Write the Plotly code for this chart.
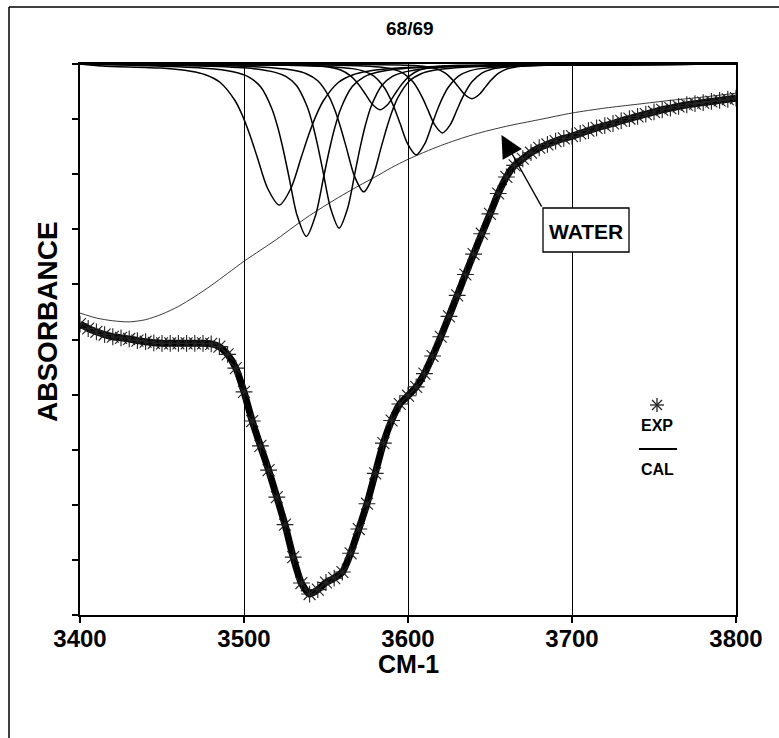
import plotly.graph_objects as go

# ---------------- data ----------------
# experimental spectrum (absorbance axis increases downward)
exp_wavenumber = list(range(3400, 3801, 5))
exp_absorbance = [
    4.72, 4.80, 4.86, 4.91, 4.95, 4.97, 4.99, 5.02, 5.04, 5.06,
    5.07, 5.07, 5.07, 5.07, 5.07, 5.07, 5.08, 5.13, 5.27, 5.52,
    5.95, 6.48, 6.93, 7.37, 7.86, 8.36, 8.95, 9.42, 9.62, 9.54,
    9.41, 9.33, 9.22, 8.88, 8.44, 7.98, 7.43, 6.88, 6.47, 6.17,
    6.02, 5.86, 5.62, 5.30, 4.95, 4.58, 4.20, 3.82, 3.45, 3.08,
    2.72, 2.35, 2.05, 1.84, 1.72, 1.61, 1.52, 1.46, 1.40, 1.35,
    1.31, 1.26, 1.21, 1.16, 1.12, 1.08, 1.03, 0.99, 0.95, 0.91,
    0.87, 0.83, 0.80, 0.77, 0.74, 0.72, 0.70, 0.68, 0.66, 0.64,
    0.62,
]

# broad background (water) curve
base_wavenumber = [3400, 3410, 3420, 3430, 3440, 3450, 3460, 3470, 3480, 3490,
                   3500, 3510, 3520, 3530, 3540, 3550, 3560, 3570, 3580, 3590,
                   3600, 3620, 3640, 3660, 3680, 3700, 3720, 3740, 3760, 3780, 3800]
base_absorbance = [4.52, 4.61, 4.66, 4.68, 4.64, 4.54, 4.40, 4.22, 4.02, 3.80,
                   3.58, 3.38, 3.18, 2.96, 2.75, 2.56, 2.38, 2.21, 2.05, 1.88,
                   1.73, 1.48, 1.28, 1.13, 1.01, 0.89, 0.80, 0.73, 0.66, 0.60, 0.53]

# calculated component bands
comp1_x = [3400, 3413.5, 3449.5, 3467.5, 3476.5, 3485.5, 3494.5, 3499, 3503.5, 3508, 3514.3, 3521.5,
           3528.7, 3535, 3539.5, 3544, 3548.5, 3557.5, 3566.5, 3575.5, 3593.5, 3629.5, 3800]
comp1_y = [0, 0.036, 0.074, 0.131, 0.195, 0.335, 0.663, 0.932, 1.28, 1.684, 2.25, 2.56,
           2.25, 1.684, 1.28, 0.932, 0.663, 0.335, 0.195, 0.131, 0.074, 0.036, 0]

comp2_x = [3400, 3454, 3482, 3496, 3503, 3510, 3517, 3520.5, 3524, 3527.5, 3532.4, 3538,
           3543.6, 3548.5, 3552, 3555.5, 3559, 3566, 3573, 3580, 3594, 3622, 3800]
comp2_y = [0, 0.044, 0.091, 0.160, 0.238, 0.410, 0.811, 1.139, 1.565, 2.06, 2.751, 3.13,
           2.751, 2.06, 1.565, 1.139, 0.811, 0.410, 0.238, 0.160, 0.091, 0.044, 0]

comp3_x = [3400, 3480, 3506, 3519, 3525.5, 3532, 3538.5, 3541.75, 3545, 3548.25, 3552.8, 3558,
           3563.2, 3567.75, 3571, 3574.25, 3577.5, 3584, 3590.5, 3597, 3610, 3636, 3800]
comp3_y = [0, 0.042, 0.086, 0.152, 0.226, 0.390, 0.772, 1.085, 1.49, 1.961, 2.619, 2.98,
           2.619, 1.961, 1.49, 1.085, 0.772, 0.390, 0.226, 0.152, 0.086, 0.042, 0]

comp4_x = [3400, 3489, 3517, 3531, 3538, 3545, 3552, 3555.5, 3559, 3562.5, 3567.4, 3573,
           3578.6, 3583.5, 3587, 3590.5, 3594, 3601, 3608, 3615, 3629, 3657, 3800]
comp4_y = [0, 0.032, 0.067, 0.118, 0.176, 0.304, 0.601, 0.844, 1.16, 1.527, 2.039, 2.32,
           2.039, 1.527, 1.16, 0.844, 0.601, 0.304, 0.176, 0.118, 0.067, 0.032, 0]

comp5_x = [3400, 3511, 3535, 3547, 3553, 3559, 3565, 3568, 3571, 3574, 3578.2, 3583,
           3587.8, 3592, 3595, 3598, 3601, 3607, 3613, 3619, 3631, 3655, 3800]
comp5_y = [0, 0.012, 0.024, 0.042, 0.063, 0.109, 0.215, 0.302, 0.415, 0.546, 0.730, 0.83,
           0.730, 0.546, 0.415, 0.302, 0.215, 0.109, 0.063, 0.042, 0.024, 0.012, 0]

comp6_x = [3400, 3527, 3553, 3566, 3572.5, 3579, 3585.5, 3588.75, 3592, 3595.25, 3599.8, 3605,
           3610.2, 3614.75, 3618, 3621.25, 3624.5, 3631, 3637.5, 3644, 3657, 3683, 3800]
comp6_y = [0, 0.023, 0.048, 0.084, 0.125, 0.216, 0.427, 0.601, 0.825, 1.086, 1.450, 1.65,
           1.450, 1.086, 0.825, 0.601, 0.427, 0.216, 0.125, 0.084, 0.048, 0.023, 0]

comp7_x = [3400, 3549, 3573, 3585, 3591, 3597, 3603, 3606, 3609, 3612, 3616.2, 3621,
           3625.8, 3630, 3633, 3636, 3639, 3645, 3651, 3657, 3669, 3693, 3800]
comp7_y = [0, 0.018, 0.036, 0.064, 0.095, 0.164, 0.324, 0.455, 0.625, 0.823, 1.099, 1.25,
           1.099, 0.823, 0.625, 0.455, 0.324, 0.164, 0.095, 0.064, 0.036, 0.018, 0]

comp8_x = [3400, 3573, 3595, 3606, 3611.5, 3617, 3622.5, 3625.25, 3628, 3630.75, 3634.6, 3639,
           3643.4, 3647.25, 3650, 3652.75, 3655.5, 3661, 3666.5, 3672, 3683, 3705, 3800]
comp8_y = [0, 0.009, 0.018, 0.032, 0.048, 0.083, 0.163, 0.229, 0.315, 0.415, 0.554, 0.63,
           0.554, 0.415, 0.315, 0.229, 0.163, 0.083, 0.048, 0.032, 0.018, 0.009, 0]

x_ticks = [3400, 3500, 3600, 3700, 3800]
y_ticks = [0, 1, 2, 3, 4, 5, 6, 7, 8, 9, 10]

title_text = "68/69"
x_title = "CM-1"
y_title = "ABSORBANCE"
arrow_label = "WATER"
arrow_target = (3657, 1.29)
legend_labels = ["EXP", "CAL"]

# ---------------- figure ----------------
FONT = "Liberation Sans, Arial, sans-serif"
W, H = 779, 738
L, R, T, B = 80, 43, 64, 123
PW, PH = W - L - R, H - T - B


def px_to_paper(px, py):
    return (px - L) / PW, (H - B - py) / PH


fig = go.Figure()

fig.add_trace(go.Scatter(x=base_wavenumber, y=base_absorbance, mode="lines",
                         line=dict(color="#222222", width=0.9, shape="spline", smoothing=0.8),
                         hoverinfo="skip", showlegend=False))

for cx, cy in [(comp1_x, comp1_y), (comp2_x, comp2_y), (comp3_x, comp3_y), (comp4_x, comp4_y),
               (comp5_x, comp5_y), (comp6_x, comp6_y), (comp7_x, comp7_y), (comp8_x, comp8_y)]:
    fig.add_trace(go.Scatter(x=cx, y=cy, mode="lines",
                             line=dict(color="black", width=1.5, shape="spline", smoothing=0.8),
                             hoverinfo="skip", showlegend=False))

fig.add_trace(go.Scatter(x=exp_wavenumber, y=exp_absorbance, mode="lines+markers",
                         line=dict(color="black", width=7, shape="spline", smoothing=0.6),
                         marker=dict(symbol="asterisk-open", size=14, color="#222222",
                                     line=dict(color="#222222", width=1.1)),
                         hoverinfo="skip", showlegend=False))

fig.update_xaxes(range=[3400, 3800], tickvals=x_ticks, ticktext=[str(v) for v in x_ticks],
                 ticks="outside", ticklen=6, tickwidth=1.5, tickcolor="black",
                 ticklabelstandoff=-5,
                 showline=True, linecolor="black", linewidth=1.5, mirror=True,
                 showgrid=True, gridcolor="black", gridwidth=1, zeroline=False,
                 tickfont=dict(family=FONT, size=24, color="black", weight="bold"))
fig.update_yaxes(range=[10, 0], tickvals=y_ticks, showticklabels=False,
                 ticks="outside", ticklen=6, tickwidth=1.5, tickcolor="black",
                 showline=True, linecolor="black", linewidth=1.5, mirror=True,
                 showgrid=False, zeroline=False)


def text_ann(text, px, py, size, angle=0, **kw):
    tx, ty = px_to_paper(px, py)
    d = dict(text=text, xref="paper", yref="paper", x=tx, y=ty, showarrow=False,
             xanchor="center", yanchor="middle", textangle=angle,
             font=dict(family=FONT, size=size, color="black", weight="bold"))
    d.update(kw)
    return d


annotations = [
    text_ann(title_text, 410, 28, 19),
    text_ann(x_title, 409, 664, 25),
    text_ann(y_title, 47, 322, 28, angle=-90),
    # WATER arrow (line from box corner to target)
    dict(text="", x=arrow_target[0], y=arrow_target[1], xref="x", yref="y",
         showarrow=True, arrowhead=2, arrowsize=3.4, arrowwidth=1.3,
         arrowcolor="black", ax=41, ay=73, standoff=0),
    text_ann(arrow_label, 586, 231, 21),
    text_ann(legend_labels[0], 657, 425, 16),
    text_ann(legend_labels[1], 657, 469, 16),
]

shapes = []
# WATER box
x0, y0 = px_to_paper(543, 252)
x1, y1 = px_to_paper(629, 208)
shapes.append(dict(type="rect", xref="paper", yref="paper", x0=x0, y0=y0, x1=x1, y1=y1,
                   fillcolor="white", line=dict(color="black", width=1.3), layer="above"))
# legend line
x0, y0 = px_to_paper(639, 449)
x1, y1 = px_to_paper(677, 449)
shapes.append(dict(type="line", xref="paper", yref="paper", x0=x0, y0=y0, x1=x1, y1=y1,
                   line=dict(color="black", width=2)))
# legend star (4 strokes)
cx, cy = 657, 405
for dx, dy in [(7, 0), (0, 7), (5, 5), (5, -5)]:
    x0, y0 = px_to_paper(cx - dx, cy - dy)
    x1, y1 = px_to_paper(cx + dx, cy + dy)
    shapes.append(dict(type="line", xref="paper", yref="paper", x0=x0, y0=y0, x1=x1, y1=y1,
                       line=dict(color="#222222", width=1.3)))
# outer frame (top and left)
x0, y0 = px_to_paper(9, 7)
x1, y1 = px_to_paper(779, 7)
shapes.append(dict(type="line", xref="paper", yref="paper", x0=x0, y0=y0, x1=x1, y1=y1,
                   line=dict(color="black", width=1.5)))
x0, y0 = px_to_paper(9, 7)
x1, y1 = px_to_paper(9, 738)
shapes.append(dict(type="line", xref="paper", yref="paper", x0=x0, y0=y0, x1=x1, y1=y1,
                   line=dict(color="black", width=1.5)))

fig.update_layout(width=W, height=H, autosize=False,
                  margin=dict(l=L, r=R, t=T, b=B, pad=0),
                  paper_bgcolor="white", plot_bgcolor="white",
                  showlegend=False, annotations=annotations, shapes=shapes)

fig.write_html("out.html")
